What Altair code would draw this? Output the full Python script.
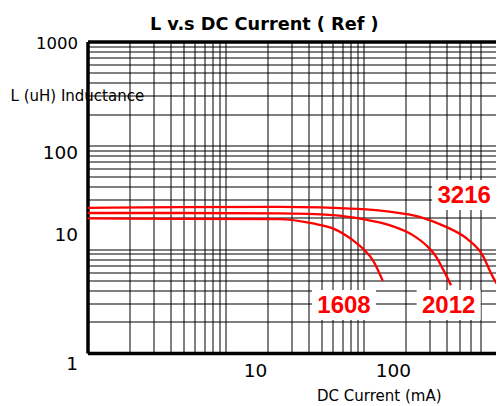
import altair as alt
import pandas as pd

# ---- data ----
series_names = ["3216", "2012", "1608"]
current_3216 = [1, 4.64, 24.6, 98.9, 154.3, 254.5, 397.4, 567, 722, 865, 1012]
induct_3216 = [25.0, 25.4, 25.5, 24.3, 23.0, 20.5, 16.4, 12.5, 8.96, 5.41, 3.88]
current_2012 = [1, 4.64, 24.6, 59.9, 98.9, 154.3, 227.6, 284.7, 336.4, 379.9, 430.5]
induct_2012 = [22.3, 22.3, 22.1, 21.3, 19.5, 17.05, 13.66, 10.9, 8.43, 6.28, 4.5]
current_1608 = [1, 4.64, 24.6, 42.9, 59.9, 83.6, 101.7, 116.8, 138]
induct_1608 = [19.8, 19.6, 19.5, 17.7, 15.85, 12.2, 9.79, 7.84, 4.95]

label_text = ["3216", "1608", "2012"]
label_current = [536.6, 72.2, 414.3]
label_induct = [33.2, 2.9, 2.9]

x_grid = [1, 2, 3, 4, 5, 6, 7, 8, 9,
          10, 20, 30, 40, 50, 60, 70, 80, 90,
          100, 200, 300, 400, 500, 600, 700]
y_grid = [1, 2, 3, 4, 5, 6, 7, 8, 9,
          10, 20, 30, 40, 50, 60, 70, 80, 90,
          100, 200, 300, 400, 500, 600, 700, 800, 900, 1000]
x_domain = [1, 912.6]
y_domain = [1, 1000]

chart_title = "L v.s DC Current ( Ref )"
x_title = "DC Current (mA)"
y_title = "L (uH) Inductance"

rows = []
for name, xs, ys in zip(series_names,
                        [current_3216, current_2012, current_1608],
                        [induct_3216, induct_2012, induct_1608]):
    for a, b in zip(xs, ys):
        rows.append({"series": name, "current": a, "inductance": b})
curves = pd.DataFrame(rows)
labels = pd.DataFrame({"label": label_text, "current": label_current,
                       "inductance": label_induct})

xscale = alt.Scale(type="log", domain=x_domain, nice=False)
yscale = alt.Scale(type="log", domain=y_domain, nice=False)

x_axis = alt.Axis(
    values=x_grid, grid=True, gridColor="black", gridWidth=1, gridOpacity=1,
    ticks=False, tickSize=0, domainColor="black", domainWidth=3.5,
    labelExpr="datum.value == 10 || datum.value == 100 ? format(datum.value, 'd') : ''",
    labelOverlap=False, labelFlush=False, labelBound=False,
    labelFont="DejaVu Sans", labelFontSize=18.5, labelColor="black",
    labelOffset=29.5, labelPadding=8,
    title=x_title, titleFont="DejaVu Sans", titleFontSize=15,
    titleFontWeight="normal", titleColor="black",
    titleX=291.3, titleY=47.7, titleAlign="center", titleBaseline="alphabetic",
)

y_axis = alt.Axis(
    values=y_grid, grid=True, gridColor="black", gridWidth=1, gridOpacity=1,
    ticks=False, tickSize=0, domainColor="black", domainWidth=3.5,
    labelExpr="(datum.value == 1 || datum.value == 10 || datum.value == 100 || datum.value == 1000) ? format(datum.value, 'd') : ''",
    labelOverlap=False, labelFlush=False, labelBound=False,
    labelFont="DejaVu Sans", labelColor="black",
    labelFontSize={"condition": {"test": "datum.value == 1000", "value": 16.5}, "value": 18.5},
    labelOffset={"condition": [
        {"test": "datum.value == 1000", "value": 1.8},
        {"test": "datum.value == 100", "value": 6.7},
        {"test": "datum.value == 10", "value": -14.7},
        {"test": "datum.value == 1", "value": 10.7},
    ], "value": 0},
    labelPadding=10, labelBaseline="middle",
    title=y_title, titleFont="DejaVu Sans", titleFontSize=15,
    titleFontWeight="normal", titleColor="black", titleAngle=0,
    titleX=-77.5, titleY=58.5, titleAlign="left", titleBaseline="alphabetic",
)

top_axis = alt.Axis(orient="top", labels=False, ticks=False, grid=False,
                    domainColor="black", domainWidth=3.5, title=None)

yenc = alt.Y("inductance:Q", scale=yscale, axis=y_axis)

lines = alt.Chart(curves).mark_line(
    color="#ff0000", strokeWidth=2.3, interpolate="monotone", clip=True
).encode(
    x=alt.X("current:Q", scale=xscale, axis=x_axis),
    y=yenc,
    detail="series:N",
    order="current:Q",
)

boxes = alt.Chart(labels).mark_rect(width=64, height=30, color="white").encode(
    x=alt.X("current:Q", scale=xscale, axis=None),
    y=yenc,
)

texts = alt.Chart(labels).mark_text(
    font="Liberation Sans", fontSize=24, fontWeight="bold", color="#ff0000",
    align="center", baseline="middle", dy=1,
).encode(
    x=alt.X("current:Q", scale=xscale, axis=top_axis),
    y=yenc,
    text="label:N",
)

chart = alt.layer(boxes, lines, texts).resolve_axis(x="independent").properties(
    width=408.5, height=311.5,
    autosize=alt.AutoSizeParams(type="none"),
    padding={"left": 79.5, "top": 33.5, "right": 0, "bottom": 51},
    title=alt.TitleParams(chart_title, font="DejaVu Sans", fontSize=17.7,
                          fontWeight="bold", color="black", anchor="middle",
                          dx=-27.5, dy=24, baseline="alphabetic", offset=12),
    background="white",
).configure_view(stroke="transparent")

chart.save("out.html", embed_options={"renderer": "svg", "actions": False})
